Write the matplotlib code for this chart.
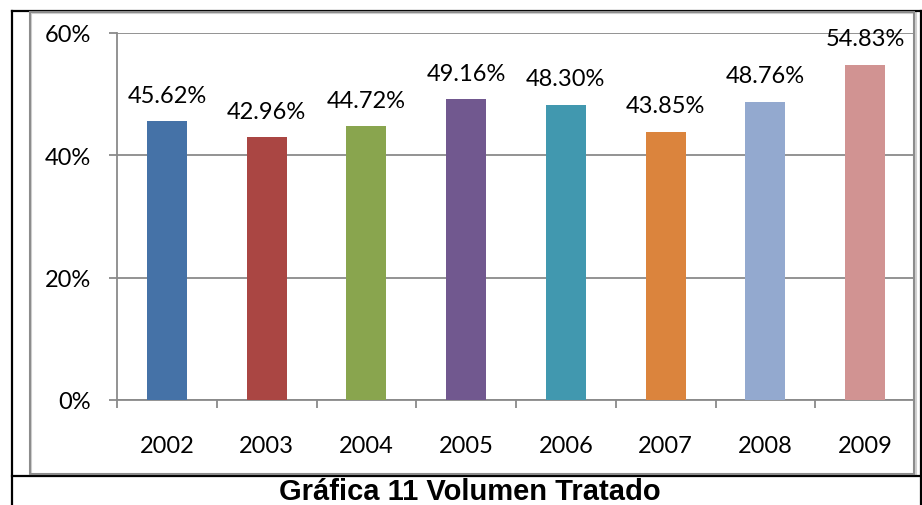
import matplotlib
matplotlib.use("Agg")
import matplotlib.pyplot as plt
from matplotlib.lines import Line2D
from matplotlib.patches import Rectangle
from matplotlib.ticker import FixedLocator, FuncFormatter

# data
years = ["2002", "2003", "2004", "2005", "2006", "2007", "2008", "2009"]
volumen = [45.62, 42.96, 44.72, 49.16, 48.30, 43.85, 48.76, 54.83]
colores = ["#4572A7", "#AA4643", "#89A54E", "#71588F",
           "#4198AF", "#DB843D", "#93A9CF", "#D19392"]
titulo = "Gráfica 11 Volumen Tratado"

W, H = 922, 506
fig = plt.figure(figsize=(W / 100, H / 100), dpi=100)

def px(x, y):
    # pixel coords (top-left origin) -> figure fraction
    return x / W, 1 - y / H

# plot area
x0, y_top, x1, y_bot = 117, 34, 915, 401
ax = fig.add_axes([x0 / W, 1 - y_bot / H, (x1 - x0) / W, (y_bot - y_top) / H])

fs = 17
pos = list(range(len(years)))
ax.bar(pos, volumen, width=0.4, color=colores, zorder=3)
for p, v in zip(pos, volumen):
    ax.annotate(f"{v:.2f}%", (p, v), xytext=(0, 14), textcoords="offset points",
                ha="center", va="baseline", fontsize=fs, family="Lato", zorder=4)

ax.set_xlim(-0.5, len(years) - 0.5)
ax.set_ylim(0, 60)

grid_c = "#8a8a8a"
ax.yaxis.set_major_locator(FixedLocator([0, 20, 40, 60]))
ax.yaxis.set_major_formatter(FuncFormatter(lambda v, _: f"{v:.0f}%"))
ax.grid(axis="y", color=grid_c, lw=1.3, zorder=0)
ax.tick_params(axis="y", length=5.8, width=1.3, color=grid_c, pad=13,
               labelsize=fs)

ax.set_xticks(pos)
ax.set_xticklabels(years)
ax.set_xticks([p - 0.5 for p in pos] + [len(years) - 0.5], minor=True)
ax.tick_params(axis="x", which="major", length=0, pad=25, labelsize=fs)
ax.tick_params(axis="x", which="minor", length=5.8, width=1.3, color=grid_c)
for lbl in ax.get_xticklabels() + ax.get_yticklabels():
    lbl.set_family("Lato")

for s in ["top", "right"]:
    ax.spines[s].set_visible(False)
for s in ["left", "bottom"]:
    ax.spines[s].set_color(grid_c)
    ax.spines[s].set_linewidth(1.3)

# chart frame (gray, with a light shadow) and the table borders
fig.patches.append(Rectangle(px(31, 477), 885 / W, 463 / H, transform=fig.transFigure,
                             fill=False, ec="#d0d0d0", lw=1.5, zorder=1))
fig.patches.append(Rectangle(px(30, 475), 884 / W, 462 / H, transform=fig.transFigure,
                             fill=False, ec="#8c8c8c", lw=1.5, zorder=2))
for (xa, ya), (xb, yb) in [((12, 12), (922, 12)), ((12, 12), (12, 506)),
                           ((921, 12), (921, 506)), ((12, 477), (922, 477))]:
    a, b = px(xa, ya), px(xb, yb)
    fig.add_artist(Line2D([a[0], b[0]], [a[1], b[1]], transform=fig.transFigure,
                          color="black", lw=1.6))

fig.text(470 / W, 1 - 492 / H, titulo, ha="center", va="center",
         fontsize=21, fontweight="bold", family="Liberation Sans")

fig.savefig("out.png", dpi=100)
